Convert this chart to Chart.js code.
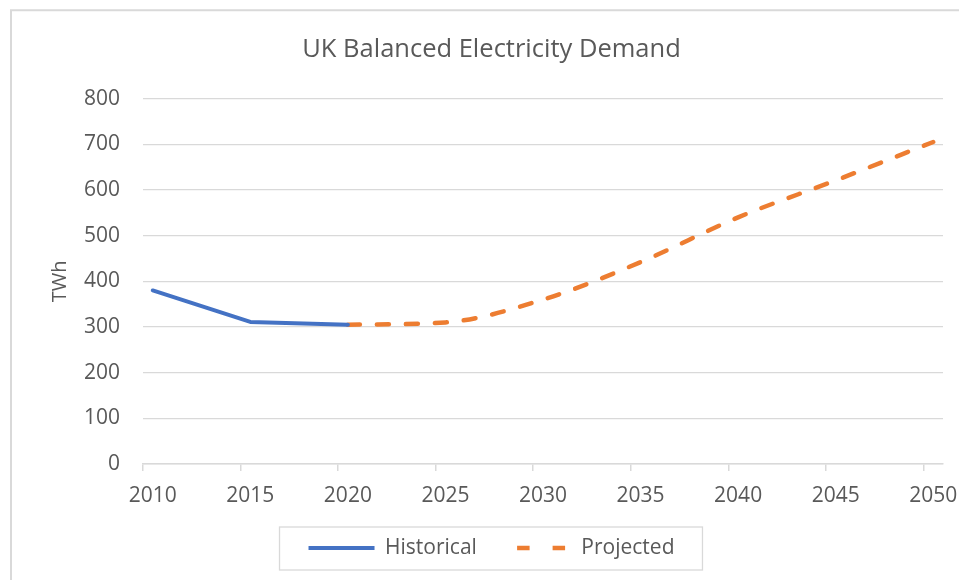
<!DOCTYPE html>
<html>
<head>
<meta charset="utf-8">
<title>UK Balanced Electricity Demand</title>
<script src="https://cdn.jsdelivr.net/npm/chart.js@4/dist/chart.umd.min.js"></script>
<style>
  body { margin: 0; background: #fff; }
  #grafica { display: block; }
</style>
</head>
<body>
<canvas id="grafica" width="959" height="580"></canvas>
<script>
// datos (TWh)
const historicalYears = ['2010', '2015', '2020'];
const historicalTWh = [380, 311, 305];
const projectedYears = ['2020', '2025', '2030', '2035', '2040', '2045', '2050'];
const projectedTWh = [305, 310, 360, 442, 540, 621, 705];
const tickYears = ['2010', '2015', '2020', '2025', '2030', '2035', '2040', '2045', '2050'];

// eje de categorias anual, como en Excel
const years = [];
for (let y = 2010; y <= 2050; y++) years.push(String(y));

const gris = '#595959';
const lineaGris = '#d9d9d9';
const fuente = "'Open Sans', sans-serif";

const marco = {
    id: 'marco',
    beforeDraw(chart) {
        const ctx = chart.ctx;
        ctx.save();
        ctx.fillStyle = '#fff';
        ctx.fillRect(0, 0, chart.width, chart.height);
        ctx.strokeStyle = lineaGris;
        ctx.lineWidth = 2;
        ctx.beginPath();
        ctx.moveTo(11, chart.height);
        ctx.lineTo(11, 10.3);
        ctx.lineTo(chart.width, 10.3);
        ctx.stroke();
        ctx.restore();
    },
    afterDraw(chart) {
        const hb = chart.legend.legendHitBoxes;
        if (!hb || !hb.length) return;
        const last = hb[hb.length - 1];
        const cy = hb[0].top + hb[0].height / 2;
        const ctx = chart.ctx;
        ctx.save();
        ctx.strokeStyle = lineaGris;
        ctx.lineWidth = 1.3;
        ctx.strokeRect(hb[0].left - 29, cy - 21, last.left + last.width + 57 - hb[0].left, 43);
        ctx.restore();
    }
};

new Chart(document.getElementById('grafica').getContext('2d'), {
    type: 'line',
    data: {
        labels: years,
        datasets: [
            {
                label: 'Historical',
                data: historicalYears.map((x, i) => ({ x, y: historicalTWh[i] })),
                borderColor: '#4472C4',
                backgroundColor: '#4472C4',
                borderWidth: 4,
                borderCapStyle: 'round',
                borderJoinStyle: 'round',
                pointRadius: 0,
                pointStyle: 'line',
                tension: 0
            },
            {
                label: 'Projected',
                data: projectedYears.map((x, i) => ({ x, y: projectedTWh[i] })),
                borderColor: '#ED7D31',
                backgroundColor: '#ED7D31',
                borderWidth: 4.5,
                borderDash: [12, 17],
                borderCapStyle: 'round',
                pointRadius: 0,
                pointStyle: 'line',
                cubicInterpolationMode: 'monotone'
            }
        ]
    },
    options: {
        responsive: false,
        animation: false,
        layout: { padding: { left: 40, right: 16, top: 20, bottom: 11.5 } },
        plugins: {
            title: {
                display: true,
                text: 'UK Balanced Electricity Demand',
                color: gris,
                font: { family: fuente, size: 25.5, weight: 'normal' },
                padding: { top: 14, bottom: 34 }
            },
            legend: {
                position: 'bottom',
                labels: {
                    usePointStyle: true,
                    pointStyleWidth: 66,
                    padding: 28,
                    color: gris,
                    font: { family: fuente, size: 21 },
                    generateLabels(chart) {
                        const items = Chart.defaults.plugins.legend.labels.generateLabels(chart);
                        items.forEach(it => {
                            it.pointStyle = 'line';
                            if (it.datasetIndex === 1) {
                                it.lineDash = [12.5, 23];
                                it.lineDashOffset = 23.25;
                            }
                        });
                        return items;
                    }
                }
            },
            tooltip: { enabled: false }
        },
        scales: {
            x: {
                type: 'category',
                offset: true,
                afterFit(scale) {
                    scale.height = 45.5;
                    // las etiquetas caben en el margen, sin recortar el area
                    scale.paddingLeft = 0;
                    scale.paddingRight = 0;
                },
                grid: {
                    offset: true,
                    drawOnChartArea: false,
                    drawTicks: true,
                    tickLength: 7,
                    lineWidth: 1.5,
                    color: c => c.index % 5 === 0 ? lineaGris : 'rgba(0,0,0,0)',
                    tickColor: c => c.index % 5 === 0 ? lineaGris : 'rgba(0,0,0,0)'
                },
                border: { display: true, color: lineaGris, width: 1.5 },
                ticks: {
                    autoSkip: false,
                    maxRotation: 0,
                    minRotation: 0,
                    padding: 12,
                    color: gris,
                    font: { family: fuente, size: 21 },
                    callback(value) {
                        const lab = this.getLabelForValue(value);
                        return tickYears.includes(lab) ? lab : '';
                    }
                }
            },
            y: {
                min: 0,
                max: 800,
                afterFit(scale) { scale.width = 103; },
                grid: { color: lineaGris, lineWidth: 1.3, drawTicks: false },
                border: { display: false },
                ticks: {
                    stepSize: 100,
                    padding: 23,
                    color: gris,
                    font: { family: fuente, size: 21 }
                },
                title: {
                    display: true,
                    text: 'TWh',
                    color: gris,
                    font: { family: fuente, size: 20 },
                    padding: { top: 8, bottom: 0 }
                }
            }
        }
    },
    plugins: [marco]
});
</script>
</body>
</html>
